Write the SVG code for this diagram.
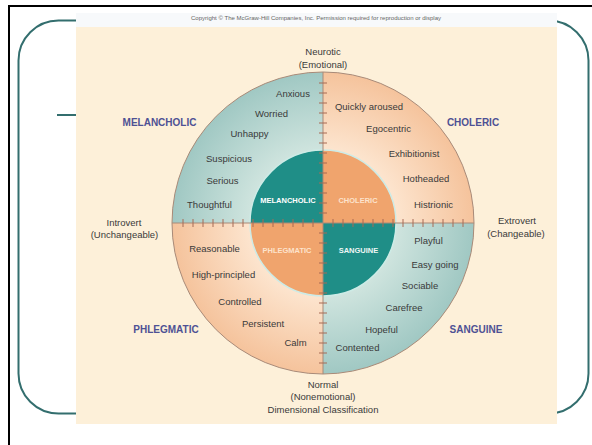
<svg xmlns="http://www.w3.org/2000/svg" width="592" height="445" viewBox="0 0 592 445">
<style>
.t{font-family:"Liberation Sans",Arial,sans-serif;font-size:9.5px;fill:#3a3a3a;text-anchor:middle}
.big{font-family:"Liberation Sans",Arial,sans-serif;font-size:10px;font-weight:bold;fill:#4e5194;text-anchor:middle}
.in{font-family:"Liberation Sans",Arial,sans-serif;font-size:7.5px;font-weight:bold;text-anchor:middle}
.frame{fill:none;stroke:#336e6e;stroke-width:2}
.tick{stroke:#a86a55;stroke-width:1}
.axis{stroke:#a88a78;stroke-width:1;fill:none}
</style>
<defs>
<radialGradient id="gTeal" gradientUnits="userSpaceOnUse" cx="323" cy="223" r="151">
<stop offset="0.45" stop-color="#d2e6e0"/>
<stop offset="1" stop-color="#a0c8c3"/>
</radialGradient>
<radialGradient id="gPeach" gradientUnits="userSpaceOnUse" cx="323" cy="223" r="151">
<stop offset="0.45" stop-color="#fde7d2"/>
<stop offset="1" stop-color="#f5c39c"/>
</radialGradient>
</defs>
<rect width="592" height="445" fill="#ffffff"/>
<!-- slide frame -->
<path d="M9,445 V6 H592" fill="none" stroke="#000" stroke-width="2"/>
<rect class="frame" x="18.5" y="20.5" width="570" height="393" rx="40" ry="40"/>
<line class="frame" x1="57" y1="115" x2="100" y2="115"/>
<!-- picture background -->
<rect x="76" y="13" width="481" height="14" fill="#f7f9fb"/>
<rect x="76" y="27" width="481" height="397" fill="#fdf0d9"/>
<text x="316" y="20" font-family="Liberation Sans, Arial, sans-serif" font-size="5" fill="#666" text-anchor="middle" textLength="250" lengthAdjust="spacingAndGlyphs">Copyright © The McGraw-Hill Companies, Inc. Permission required for reproduction or display</text>

<g id="melancholic">
<path d="M323,223 L172,223 A151,151 0 0,1 323,72 Z" fill="url(#gTeal)"/>
<path d="M323,223 L250,223 A73,73 0 0,1 323,150 Z" fill="#1f8e87"/>
<text class="big" x="159.5" y="126">MELANCHOLIC</text>
<text class="in" x="288" y="203" fill="#ffffff">MELANCHOLIC</text>
<text class="t" x="293" y="97">Anxious</text>
<text class="t" x="271.5" y="117">Worried</text>
<text class="t" x="249.5" y="137">Unhappy</text>
<text class="t" x="229" y="162">Suspicious</text>
<text class="t" x="222.5" y="184">Serious</text>
<text class="t" x="209.5" y="208">Thoughtful</text>
</g>
<g id="choleric">
<path d="M323,223 L323,72 A151,151 0 0,1 474,223 Z" fill="url(#gPeach)"/>
<path d="M323,223 L323,150 A73,73 0 0,1 396,223 Z" fill="#f0a46d"/>
<text class="big" x="473" y="126">CHOLERIC</text>
<text class="in" x="358" y="203" fill="#fde3cc">CHOLERIC</text>
<text class="t" x="369" y="110">Quickly aroused</text>
<text class="t" x="388.5" y="132">Egocentric</text>
<text class="t" x="414" y="157">Exhibitionist</text>
<text class="t" x="426" y="182">Hotheaded</text>
<text class="t" x="433.5" y="208">Histrionic</text>
</g>
<g id="sanguine">
<path d="M323,223 L474,223 A151,151 0 0,1 323,374 Z" fill="url(#gTeal)"/>
<path d="M323,223 L396,223 A73,73 0 0,1 323,296 Z" fill="#1f8e87"/>
<text class="big" x="476" y="333">SANGUINE</text>
<text class="in" x="358.5" y="253" fill="#eef7f5">SANGUINE</text>
<text class="t" x="428.5" y="244">Playful</text>
<text class="t" x="435" y="268">Easy going</text>
<text class="t" x="420" y="289">Sociable</text>
<text class="t" x="404" y="311">Carefree</text>
<text class="t" x="381.5" y="333">Hopeful</text>
<text class="t" x="357.5" y="351">Contented</text>
</g>
<g id="phlegmatic">
<path d="M323,223 L323,374 A151,151 0 0,1 172,223 Z" fill="url(#gPeach)"/>
<path d="M323,223 L323,296 A73,73 0 0,1 250,223 Z" fill="#f0a46d"/>
<text class="big" x="166" y="333">PHLEGMATIC</text>
<text class="in" x="287" y="253" fill="#fde3cc">PHLEGMATIC</text>
<text class="t" x="214.5" y="252">Reasonable</text>
<text class="t" x="223.5" y="278">High-principled</text>
<text class="t" x="240" y="305">Controlled</text>
<text class="t" x="263" y="327">Persistent</text>
<text class="t" x="295.5" y="346">Calm</text>
</g>
<g id="connectors">
<circle class="axis" cx="323" cy="223" r="151"/>
<circle cx="323" cy="223" r="73" fill="none" stroke="#cdebe6" stroke-width="1.5"/>
<line class="axis" x1="172" y1="223" x2="474" y2="223"/>
<line class="axis" x1="323" y1="72" x2="323" y2="374"/>
<path class="tick" d="M313,219v8M303,219v8M293,219v8M283,219v8M273,219v8M263,219v8M253,219v8M243,219v8M233,219v8M223,219v8M213,219v8M203,219v8M193,219v8M183,219v8M333,219v8M343,219v8M353,219v8M363,219v8M373,219v8M383,219v8M393,219v8M403,219v8M413,219v8M423,219v8M433,219v8M443,219v8M453,219v8M463,219v8"/>
<path class="tick" d="M319,213h8M319,203h8M319,193h8M319,183h8M319,173h8M319,163h8M319,153h8M319,143h8M319,133h8M319,123h8M319,113h8M319,103h8M319,93h8M319,83h8M319,233h8M319,243h8M319,253h8M319,263h8M319,273h8M319,283h8M319,293h8M319,303h8M319,313h8M319,323h8M319,333h8M319,343h8M319,353h8M319,363h8"/>
</g>
<g id="axis-labels">
<text class="t" x="323" y="55">Neurotic</text>
<text class="t" x="323" y="68">(Emotional)</text>
<text class="t" x="124" y="226">Introvert</text>
<text class="t" x="124.5" y="238">(Unchangeable)</text>
<text class="t" x="517" y="224">Extrovert</text>
<text class="t" x="516" y="237">(Changeable)</text>
<text class="t" x="323" y="388">Normal</text>
<text class="t" x="323" y="400">(Nonemotional)</text>
<text class="t" x="323" y="413">Dimensional Classification</text>
</g>
</svg>
